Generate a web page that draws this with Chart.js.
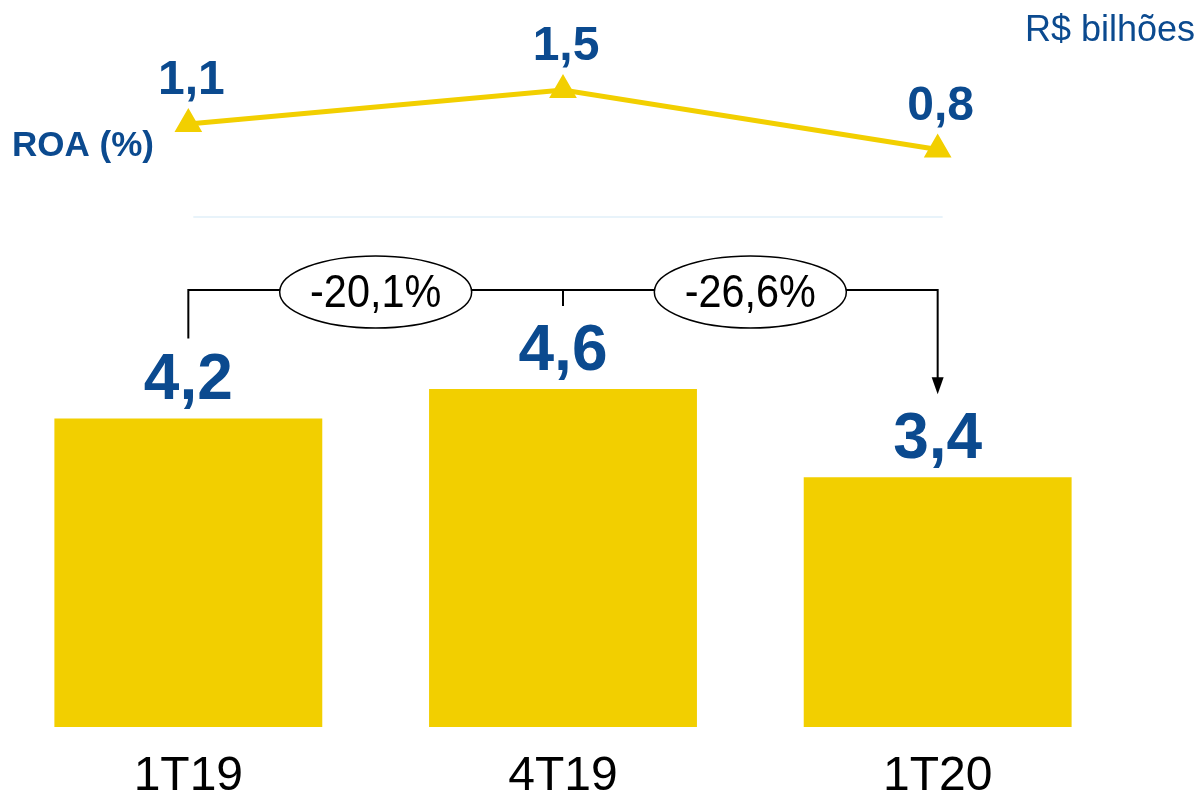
<!DOCTYPE html>
<html>
<head>
<meta charset="utf-8">
<script src="https://cdn.jsdelivr.net/npm/chart.js@4"></script>
<style>
  html, body { margin: 0; padding: 0; background: #fff; }
  #wrap { width: 1199px; height: 795px; }
</style>
</head>
<body>
<div id="wrap"><canvas id="grafico" width="1199" height="795"></canvas></div>
<script>
// dados
const periodos = ['1T19', '4T19', '1T20'];
const lucro = [4.2, 4.6, 3.4];          // R$ bilhões
const lucroTexto = ['4,2', '4,6', '3,4'];
const roa = [1.1, 1.5, 0.8];            // ROA (%)
const roaTexto = ['1,1', '1,5', '0,8'];
const variacoes = ['-20,1%', '-26,6%'];

const AMARELO = '#F2CF00';
const AZUL = '#0B4A8F';
const FONTE = '"Liberation Sans", Arial, sans-serif';

// desenha rótulos, chave de variação e textos soltos
const anotacoes = {
    id: 'anotacoes',
    afterDatasetsDraw(chart) {
        const ctx = chart.ctx;
        const barras = chart.getDatasetMeta(0).data;
        const pontos = chart.getDatasetMeta(1).data;
        ctx.save();

        // linha clara separando ROA das barras
        ctx.strokeStyle = '#E8F3FA';
        ctx.lineWidth = 2;
        ctx.beginPath();
        ctx.moveTo(pontos[0].x + 5, 217);
        ctx.lineTo(pontos[2].x + 5, 217);
        ctx.stroke();

        // valores das barras
        ctx.fillStyle = AZUL;
        ctx.textAlign = 'center';
        ctx.textBaseline = 'alphabetic';
        ctx.font = 'bold 64px ' + FONTE;
        barras.forEach((b, i) => ctx.fillText(lucroTexto[i], b.x, b.y - 19));

        // valores do ROA
        ctx.font = 'bold 48px ' + FONTE;
        pontos.forEach((p, i) => ctx.fillText(roaTexto[i], p.x + 3, p.y - 30));

        ctx.font = 'bold 35px ' + FONTE;
        ctx.textAlign = 'left';
        ctx.fillText('ROA (%)', 12, 156);
        ctx.font = '36px ' + FONTE;
        ctx.textAlign = 'right';
        ctx.fillText('R$ bilhões', 1195, 41);

        // chave com as variações
        const yTopo = Math.min(...barras.map(b => b.y)) - 99;
        ctx.strokeStyle = '#000';
        ctx.lineWidth = 2;
        ctx.beginPath();
        ctx.moveTo(barras[0].x, barras[0].y - 80);
        ctx.lineTo(barras[0].x, yTopo);
        ctx.lineTo(barras[2].x, yTopo);
        ctx.lineTo(barras[2].x, barras[2].y - 99);
        ctx.moveTo(barras[1].x, yTopo);
        ctx.lineTo(barras[1].x, yTopo + 16);
        ctx.stroke();
        // ponta da seta
        const ponta = barras[2].y - 83;
        ctx.fillStyle = '#000';
        ctx.beginPath();
        ctx.moveTo(barras[2].x - 6, ponta - 17);
        ctx.lineTo(barras[2].x + 6, ponta - 17);
        ctx.lineTo(barras[2].x, ponta);
        ctx.closePath();
        ctx.fill();

        // elipses
        ctx.textAlign = 'center';
        ctx.textBaseline = 'middle';
        for (let i = 0; i < 2; i++) {
            const cx = (barras[i].x + barras[i + 1].x) / 2;
            const cy = yTopo + 2;
            ctx.beginPath();
            ctx.ellipse(cx, cy, 96, 36, 0, 0, Math.PI * 2);
            ctx.fillStyle = '#fff';
            ctx.fill();
            ctx.lineWidth = 1.5;
            ctx.stroke();
            // texto um pouco estreito
            ctx.save();
            ctx.translate(cx, cy + 2);
            ctx.scale(0.9, 1);
            ctx.font = '46px ' + FONTE;
            ctx.fillStyle = '#000';
            ctx.fillText(variacoes[i], 0, 0);
            ctx.restore();
        }
        ctx.restore();
    }
};

new Chart(document.getElementById('grafico'), {
    type: 'bar',
    data: {
        labels: periodos,
        datasets: [{
            type: 'bar',
            label: 'Lucro',
            data: lucro,
            backgroundColor: AMARELO,
            barPercentage: 0.715,
            categoryPercentage: 1,
            yAxisID: 'y',
            order: 2
        }, {
            type: 'line',
            label: 'ROA',
            data: roa,
            borderColor: AMARELO,
            backgroundColor: AMARELO,
            borderWidth: 5,
            pointStyle: 'triangle',
            pointRadius: 11,
            pointHoverRadius: 11,
            yAxisID: 'y1',
            order: 1
        }]
    },
    options: {
        responsive: false,
        animation: false,
        events: [],
        layout: { autoPadding: false, padding: { top: 29, right: 74, bottom: 0, left: 1 } },
        plugins: {
            legend: { display: false },
            tooltip: { enabled: false }
        },
        scales: {
            x: {
                grid: { display: false, drawTicks: false },
                border: { display: false },
                ticks: {
                    color: '#000',
                    padding: 21,
                    font: { family: FONTE, size: 48 }
                },
                afterFit(scale) {
                    scale.height = 68;
                    scale.paddingLeft = 0;
                    scale.paddingRight = 0;
                }
            },
            y: { display: false, min: 0, max: 9.5 },
            y1: { display: false, min: -5.994, max: 2.218 }
        }
    },
    plugins: [anotacoes]
});
</script>
</body>
</html>
